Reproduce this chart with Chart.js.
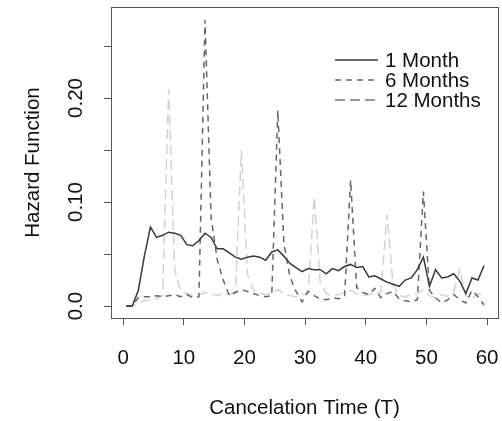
<!DOCTYPE html>
<html>
<head>
<meta charset="utf-8">
<script src="https://cdn.jsdelivr.net/npm/chart.js@4"></script>
<style>
  body { margin: 0; background: #fff; }
  #wrap { width: 502px; height: 421px; }
</style>
</head>
<body>
<div id="wrap"><canvas id="chart" width="502" height="421"></canvas></div>
<script>
// cancelation time T, points sit at the middle of each month
const times = Array.from({ length: 60 }, (_, i) => i + 0.5);

const month1 = [
  0.000, 0.000, 0.015, 0.048, 0.076, 0.066, 0.068, 0.071, 0.070, 0.068,
  0.059, 0.058, 0.063, 0.070, 0.066, 0.055, 0.055, 0.051, 0.047, 0.045,
  0.047, 0.048, 0.047, 0.044, 0.052, 0.054, 0.048, 0.041, 0.037, 0.033,
  0.036, 0.035, 0.035, 0.031, 0.036, 0.034, 0.038, 0.040, 0.037, 0.038,
  0.028, 0.029, 0.026, 0.023, 0.021, 0.019, 0.025, 0.027, 0.035, 0.047,
  0.019, 0.035, 0.027, 0.028, 0.031, 0.024, 0.012, 0.027, 0.025, 0.039
];
const month6 = [
  0.000, 0.000, 0.008, 0.009, 0.009, 0.010, 0.009, 0.010, 0.011, 0.009,
  0.011, 0.008, 0.009, 0.275, 0.085, 0.045, 0.025, 0.010, 0.013, 0.016,
  0.014, 0.012, 0.010, 0.009, 0.010, 0.188, 0.060, 0.028, 0.014, 0.004,
  0.014, 0.010, 0.007, 0.006, 0.008, 0.007, 0.009, 0.121, 0.018, 0.013,
  0.011, 0.017, 0.008, 0.012, 0.014, 0.007, 0.005, 0.004, 0.006, 0.110,
  0.015, 0.008, 0.003, 0.006, 0.011, 0.006, 0.003, 0.015, 0.009, 0.001
];
const month12 = [
  0.000, 0.000, 0.003, 0.005, 0.006, 0.007, 0.010, 0.208, 0.035, 0.014,
  0.012, 0.010, 0.011, 0.013, 0.012, 0.010, 0.012, 0.011, 0.014, 0.150,
  0.030, 0.015, 0.012, 0.011, 0.013, 0.016, 0.012, 0.010, 0.009, 0.011,
  0.013, 0.105, 0.022, 0.012, 0.010, 0.011, 0.013, 0.015, 0.012, 0.010,
  0.011, 0.012, 0.014, 0.088, 0.020, 0.010, 0.009, 0.011, 0.012, 0.016,
  0.010, 0.008, 0.011, 0.009, 0.014, 0.035, 0.010, 0.006, 0.012, 0.008
];

const seriesNames = ['1 Month', '6 Months', '12 Months'];
const xTicks = [0, 10, 20, 30, 40, 50, 60];
const yTicks = [0, 0.05, 0.10, 0.15, 0.20, 0.25];
const yLabels = { 0: '0.0', 0.1: '0.10', 0.2: '0.20' };

const FONT = { family: '"Liberation Sans", Arial, sans-serif', size: 20.5 };
const AXIS_COLOR = '#555';

const toPoints = (vals) => vals.map((v, i) => ({ x: times[i], y: v }));

// box, rotated y labels and the legend, R style
const rPlotExtras = {
  id: 'rPlotExtras',
  afterDraw(chart) {
    const { ctx, chartArea: a, scales } = chart;
    ctx.save();
    ctx.strokeStyle = AXIS_COLOR;
    ctx.lineWidth = 1;
    ctx.strokeRect(a.left + 0.5, a.top + 0.5, a.right - a.left, a.bottom - a.top);

    ctx.fillStyle = '#111';
    ctx.font = `${FONT.size}px ${FONT.family}`;
    ctx.textAlign = 'center';
    ctx.textBaseline = 'middle';
    Object.keys(yLabels).forEach((k) => {
      const y = scales.y.getPixelForValue(+k);
      ctx.save();
      ctx.translate(76, y);
      ctx.rotate(-Math.PI / 2);
      ctx.fillText(yLabels[k], 0, 0);
      ctx.restore();
    });

    // legend
    const rowY = [60, 80, 100];
    chart.data.datasets.forEach((ds, i) => {
      ctx.beginPath();
      ctx.strokeStyle = ds.legendColor || ds.borderColor;
      ctx.lineWidth = ds.borderWidth;
      ctx.setLineDash(ds.borderDash || []);
      ctx.moveTo(335, rowY[i]);
      ctx.lineTo(378, rowY[i]);
      ctx.stroke();
      ctx.setLineDash([]);
      ctx.textAlign = 'left';
      ctx.fillText(ds.label, 385, rowY[i] + 1);
    });
    ctx.restore();
  }
};

new Chart(document.getElementById('chart').getContext('2d'), {
  type: 'line',
  data: {
    datasets: [
      {
        label: seriesNames[0],
        data: toPoints(month1),
        borderColor: '#3a3a3a',
        borderWidth: 1.5,
      },
      {
        label: seriesNames[1],
        data: toPoints(month6),
        borderColor: '#666',
        borderWidth: 1.5,
        borderDash: [6, 5],
      },
      {
        label: seriesNames[2],
        data: toPoints(month12),
        borderColor: '#d2d2d2',
        legendColor: '#777',
        borderWidth: 1.5,
        borderDash: [10, 5],
      }
    ]
  },
  options: {
    responsive: false,
    animation: false,
    layout: { padding: { top: 7, right: 4, left: 0, bottom: 0 } },
    elements: {
      point: { radius: 0 },
      line: { tension: 0, fill: false }
    },
    plugins: {
      legend: { display: false },
      tooltip: { enabled: false }
    },
    scales: {
      x: {
        type: 'linear',
        min: -2,
        max: 61.8,
        afterBuildTicks: (s) => { s.ticks = xTicks.map((v) => ({ value: v })); },
        afterFit: (s) => { s.height = 103; s.paddingLeft = 0; s.paddingRight = 0; },
        grid: { drawOnChartArea: false, tickLength: 7, color: AXIS_COLOR },
        border: { display: false },
        ticks: { font: FONT, color: '#111', padding: 21, maxRotation: 0 },
        title: {
          display: true,
          text: 'Cancelation Time (T)',
          font: FONT,
          color: '#111',
          padding: { top: 0, bottom: 0 }
        }
      },
      y: {
        type: 'linear',
        min: -0.0115,
        max: 0.2875,
        afterBuildTicks: (s) => { s.ticks = yTicks.map((v) => ({ value: v })); },
        afterFit: (s) => { s.width = 111; s.paddingTop = 0; s.paddingBottom = 0; },
        grid: { drawOnChartArea: false, tickLength: 7, color: AXIS_COLOR },
        border: { display: false },
        ticks: { display: false },
        title: {
          display: true,
          text: 'Hazard Function',
          font: FONT,
          color: '#111',
          padding: { top: 21, bottom: 0 }
        }
      }
    }
  },
  plugins: [rPlotExtras]
});
</script>
</body>
</html>
